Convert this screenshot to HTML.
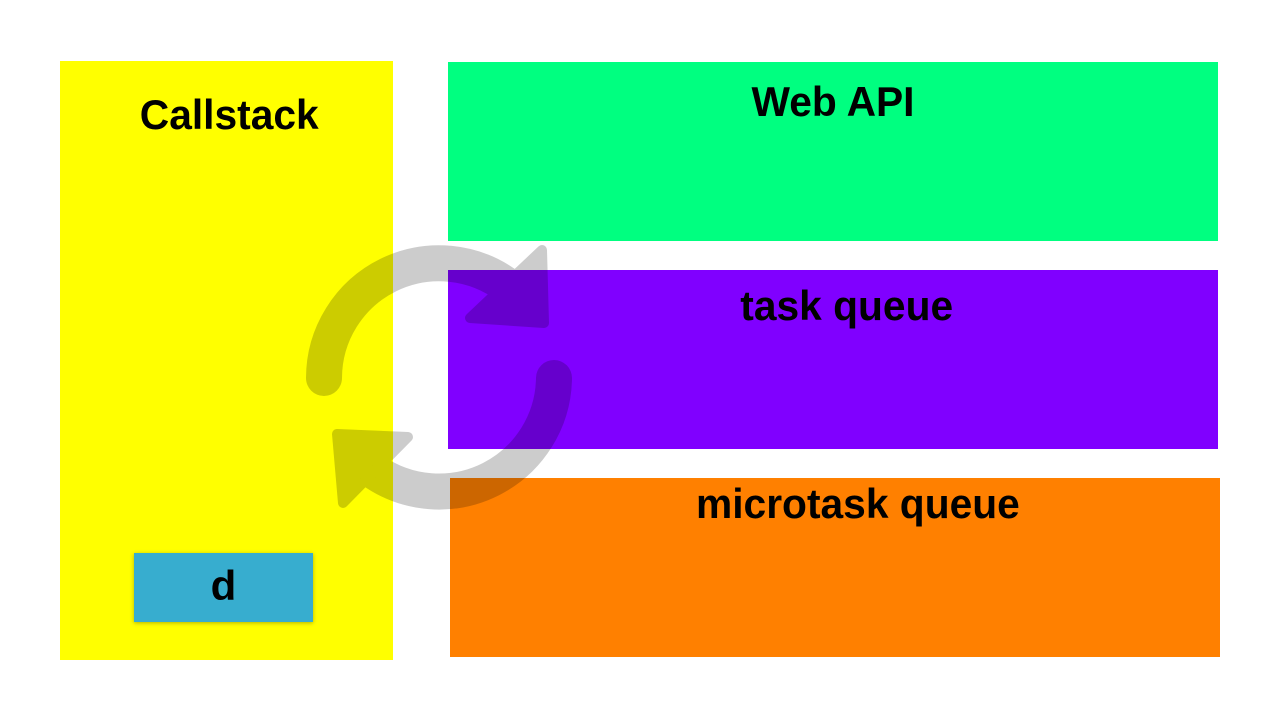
<!DOCTYPE html>
<html><head><style>
body{margin:0;width:1280px;height:720px;background:#fff;position:relative;overflow:hidden;font-family:"Liberation Sans",Arial,sans-serif;font-weight:bold}
.b{position:absolute;text-align:center;font-size:42px;color:#000}
.t{display:inline-block;transform:scaleX(0.97)}
</style></head><body>
<div class="b" style="left:60px;top:61px;width:333px;height:599px;background:#ffff00;"><div style="margin-top:30px;padding-left:5px"><span class="t">Callstack</span></div></div>
<div class="b" style="left:448px;top:62px;width:770px;height:179px;background:#00ff80;"><div style="margin-top:16px"><span class="t">Web API</span></div></div>
<div class="b" style="left:448px;top:270px;width:770px;height:179px;background:#8000ff;"><div style="margin-top:12px;padding-left:28px"><span class="t">task queue</span></div></div>
<div class="b" style="left:450px;top:478px;width:770px;height:179px;background:#ff8000;"><div style="margin-top:2px;padding-left:46px"><span class="t">microtask queue</span></div></div>
<div class="b" style="left:134px;top:553px;width:179px;height:69px;line-height:66px;background:#37adcf;box-shadow:0 1px 4px rgba(0,0,0,0.3)">d</div>
<svg width="1280" height="720" style="position:absolute;left:0;top:0;mix-blend-mode:multiply">
<g fill="none" stroke="#cccccc" stroke-width="36" stroke-linecap="round">
<path d="M324 378 A115 115 0 0 1 509 287"/>
<path d="M554 378 A115 115 0 0 1 372 470"/>
</g>
<g fill="#cccccc" stroke="#cccccc" stroke-width="10" stroke-linejoin="round">
<polygon points="542,250 544,323 470,318"/>
<polygon points="337,434 408,437 343,503"/>
</g>
</svg>
</body></html>
